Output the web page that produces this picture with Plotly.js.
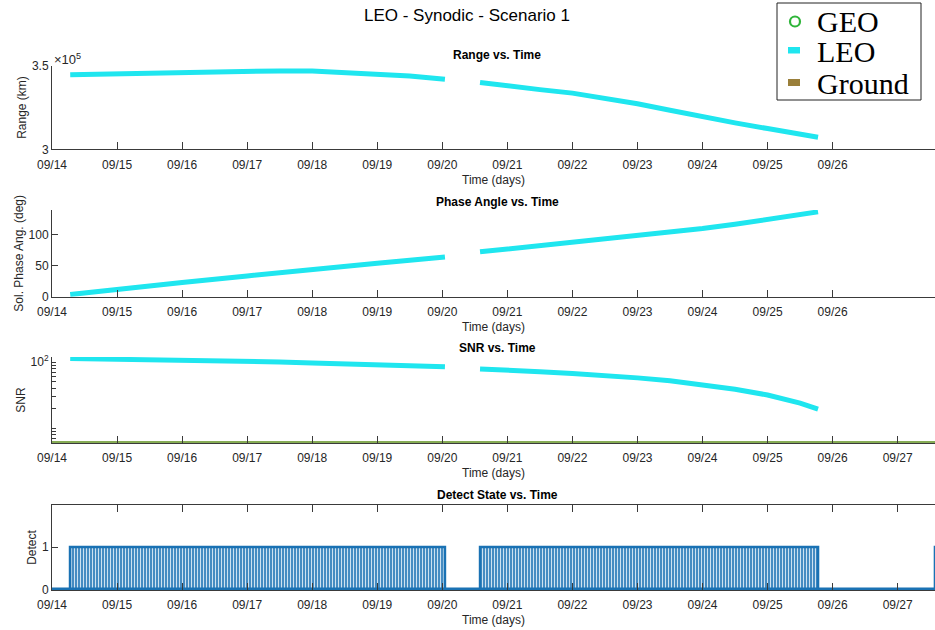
<!DOCTYPE html>
<html>
<head>
<meta charset="utf-8">
<script src="https://cdn.plot.ly/plotly-3.0.1.min.js"></script>
<style>html,body{margin:0;padding:0;background:#fff;}#chart{width:935px;height:630px;}</style>
</head>
<body>
<div id="chart"></div>
<script>
// ---- data ----
const timeLEO = [
  '2021-09-14 06:43','2021-09-15 00:00','2021-09-16 00:00','2021-09-17 00:00','2021-09-17 12:00',
  '2021-09-18 00:00','2021-09-19 00:00','2021-09-19 12:00','2021-09-20 00:58',
  '2021-09-20 07:00',
  '2021-09-20 13:55','2021-09-21 00:00','2021-09-21 12:00','2021-09-22 00:00','2021-09-22 12:00',
  '2021-09-23 00:00','2021-09-23 12:00','2021-09-24 00:00','2021-09-24 12:00','2021-09-25 00:00',
  '2021-09-25 12:00','2021-09-25 18:37'
];
const rangeLEO = [
  344600,345200,345900,346600,346900,
  346800,345000,343900,341900,
  null,
  340000,337800,335700,333600,330600,
  327200,323400,319400,315800,312400,
  309200,307200
];
const phaseLEO = [
  3.5,12,23,33.5,39,
  44.5,54,58.8,64,
  null,
  72.4,77,82,87,92,
  97.5,103.5,110,117,124.5,
  132.5,137
];
const snrLEO = [
  113,111,107,103,100,
  97,91,88,84.5,
  null,
  78.5,76,71.5,67,62.5,
  57.5,52,45,38.6,31.6,
  23.8,19.3
];
const groundTime = ['2021-09-14 00:00','2021-09-27 13:46'];
const groundSNR = [5.93,5.93];
const detectStart = ['2021-09-14 06:39','2021-09-20 13:55','2021-09-27 13:45'];
const detectEnd   = ['2021-09-20 00:58','2021-09-25 18:37','2021-09-27 20:00'];
const detectOn = [1,1,1];
const baseTime = ['2021-09-14 00:00','2021-09-27 20:00'];
const baseState = [0,0];
const tickDays12 = ['2021-09-14','2021-09-15','2021-09-16','2021-09-17','2021-09-18','2021-09-19','2021-09-20',
  '2021-09-21','2021-09-22','2021-09-23','2021-09-24','2021-09-25','2021-09-26'];
const tickDays34 = tickDays12.concat(['2021-09-27']);
const snrTicks = [6,7,8,9,10,20,30,40,50,60,70,80,90,100];
const snrTickText = ['','','','','','','','','','','','','','10<sup>2</sup>'];
const legendNames = ['GEO','LEO','Ground'];
const legendColors = ['#2fb53a','#1fe6ef','#9a7f3a'];

// ---- styling ----
const CYAN = '#1fe6ef';
const BLUE = '#1a72b4';
const AX = '#3a3a3a';
const TXT = '#262626';
const FONT = 'Liberation Sans, Arial, sans-serif';
const SERIF = 'Liberation Serif, Times New Roman, serif';
const xr = ['2021-09-14 00:00','2021-09-27 13:46'];
const H = 630, W = 935, L = 52, PW = 883;
const px = v => (v - L) / PW;       // pixel x -> paper x
const py = v => 1 - v / H;          // pixel y -> paper y

const traces = [];
traces.push({x: timeLEO, y: rangeLEO, xaxis:'x', yaxis:'y', mode:'lines', line:{color:CYAN, width:5}, showlegend:false, connectgaps:false});
traces.push({x: timeLEO, y: phaseLEO, xaxis:'x2', yaxis:'y2', mode:'lines', line:{color:CYAN, width:5}, showlegend:false, connectgaps:false});
traces.push({x: timeLEO, y: snrLEO, xaxis:'x3', yaxis:'y3', mode:'lines', line:{color:CYAN, width:5}, showlegend:false, connectgaps:false});
traces.push({x: groundTime, y: groundSNR, xaxis:'x3', yaxis:'y3', mode:'lines', line:{color:'#86ac55', width:4}, showlegend:false});
for (let i = 0; i < detectStart.length; i++) {
  traces.push({
    x: [detectStart[i], detectStart[i], detectEnd[i], detectEnd[i]],
    y: [0, detectOn[i], detectOn[i], 0],
    xaxis:'x4', yaxis:'y4', mode:'lines', fill:'toself',
    fillcolor: BLUE,
    fillpattern: {shape:'|', size:3, solidity:0.45, fgcolor:'#cde2f1', bgcolor:'#2a7ab8', fillmode:'replace'},
    line:{color:BLUE, width:2.5}, showlegend:false
  });
}
traces.push({x: baseTime, y: baseState, xaxis:'x4', yaxis:'y4', mode:'lines', line:{color:BLUE, width:5}, showlegend:false});

function xax(anchor, ticks, extra) {
  return Object.assign({
    type:'date', range: xr, domain:[0,1], anchor: anchor,
    tickvals: ticks, tickformat:'%m/%d', ticks:'inside', ticklen:7, tickcolor:AX,
    ticklabelstandoff:4,
    showline:true, linecolor:AX, linewidth:1, showgrid:false, zeroline:false,
    tickfont:{family:FONT, size:12, color:TXT},
    title:{text:'Time (days)', font:{family:FONT, size:12, color:TXT}, standoff:4}
  }, extra || {});
}
function yax(dom, anchor, extra) {
  return Object.assign({
    domain: dom, anchor: anchor, ticks:'inside', ticklen:6, tickcolor:AX,
    showline:true, linecolor:AX, linewidth:1, showgrid:false, zeroline:false,
    tickfont:{family:FONT, size:12, color:TXT}
  }, extra || {});
}
const d1 = [py(149.3), py(65.7)], d2 = [py(296.7), py(210)], d3 = [py(443), py(357)], d4 = [py(590), py(505)];
const yTitle = t => ({text:t, font:{family:FONT,size:12,color:TXT}, standoff:2});

// manual legend (box, symbols, labels)
const legendY = [20, 50, 82];
const shapes = [
  {type:'rect', xref:'paper', yref:'paper', x0:px(777), x1:px(921), y0:py(100), y1:py(3), line:{color:'#222', width:1}, fillcolor:'#fff', layer:'above'},
  {type:'circle', xref:'paper', yref:'paper', x0:px(790), x1:px(800), y0:py(legendY[0]+6.5), y1:py(legendY[0]-3.5), line:{color:legendColors[0], width:2.2}, layer:'above'},
  {type:'rect', xref:'paper', yref:'paper', x0:px(788), x1:px(800), y0:py(legendY[1]+3.5), y1:py(legendY[1]-3), line:{width:0}, fillcolor:legendColors[1], layer:'above'},
  {type:'rect', xref:'paper', yref:'paper', x0:px(788), x1:px(800), y0:py(legendY[2]+4), y1:py(legendY[2]-3), line:{width:0}, fillcolor:legendColors[2], layer:'above'}
];
const annotations = [
  {text:'<b>Range vs. Time</b>', xref:'paper', yref:'paper', x:px(497), y:py(55), yanchor:'middle', showarrow:false, font:{family:FONT,size:12,color:'#000'}},
  {text:'<b>Phase Angle vs. Time</b>', xref:'paper', yref:'paper', x:px(497), y:py(202), yanchor:'middle', showarrow:false, font:{family:FONT,size:12,color:'#000'}},
  {text:'<b>SNR vs. Time</b>', xref:'paper', yref:'paper', x:px(497), y:py(348), yanchor:'middle', showarrow:false, font:{family:FONT,size:12,color:'#000'}},
  {text:'<b>Detect State vs. Time</b>', xref:'paper', yref:'paper', x:px(497), y:py(495), yanchor:'middle', showarrow:false, font:{family:FONT,size:12,color:'#000'}},
  {text:'\u00d710<sup>5</sup>', xref:'paper', yref:'paper', x:px(52), y:py(59), xanchor:'left', yanchor:'middle', showarrow:false, font:{family:FONT,size:13,color:TXT}}
];
for (let i = 0; i < legendNames.length; i++) {
  annotations.push({text:legendNames[i], xref:'paper', yref:'paper', x:px(815), y:py(legendY[i]+1.5), xanchor:'left', yanchor:'middle',
    showarrow:false, font:{family:SERIF, size:30, color:'#000'}});
}

const layout = {
  width:W, height:H, margin:{l:L, r:0, t:0, b:0},
  paper_bgcolor:'#fff', plot_bgcolor:'#fff',
  font:{family:FONT, color:TXT},
  title:{text:'LEO - Synodic - Scenario 1', font:{family:FONT, size:17, color:'#000'}, xref:'container', yref:'container', x:467/W, xanchor:'center', y:py(15), yanchor:'middle'},
  xaxis: xax('y',tickDays12),
  xaxis2: xax('y2',tickDays12),
  xaxis3: xax('y3',tickDays34),
  xaxis4: xax('y4',tickDays34, {mirror:'ticks'}),
  yaxis: yax(d1,'x',{range:[300000,350000], tickvals:[300000,350000], ticktext:['3','3.5'], title:yTitle('Range (km)')}),
  yaxis2: yax(d2,'x2',{range:[0,140], tickvals:[0,50,100], title:yTitle('Sol. Phase Ang. (deg)')}),
  yaxis3: yax(d3,'x3',{type:'log', range:[0.773,2.076], tickvals:snrTicks, ticktext:snrTickText, ticklen:4, title:yTitle('SNR')}),
  yaxis4: yax(d4,'x4',{range:[0,1.98], tickvals:[0,1], title:yTitle('Detect')}),
  showlegend:false,
  shapes: shapes,
  annotations: annotations
};
Plotly.newPlot('chart', traces, layout, {displayModeBar:false, staticPlot:true});
</script>
</body>
</html>
